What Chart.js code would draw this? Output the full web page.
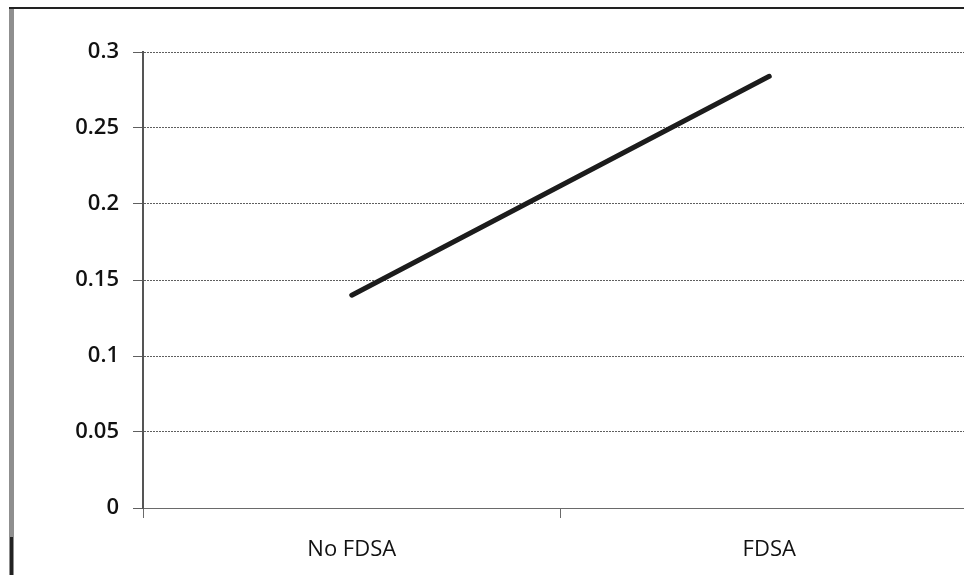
<!DOCTYPE html>
<html>
<head>
<meta charset="utf-8">
<script src="https://cdn.jsdelivr.net/npm/chart.js@4"></script>
<style>
  html, body { margin: 0; padding: 0; background: #fff; overflow: hidden; width: 964px; height: 575px; }
  #wrap { position: absolute; left: 0; top: 0; width: 990px; height: 575px; }
  #frameLeft { position: absolute; left: 9px; top: 8px; width: 5px; height: 567px; background: #8f8f8f; }
  #frameLeftDark { position: absolute; left: 10px; top: 537px; width: 3px; height: 38px; background: #222; }
  #frameTop { position: absolute; left: 9px; top: 7px; width: 960px; height: 2px; background: #222; }
</style>
</head>
<body>
<div id="wrap"><canvas id="c" width="990" height="575"></canvas></div>
<div id="frameLeft"></div>
<div id="frameLeftDark"></div>
<div id="frameTop"></div>
<script>
const categories = ["No FDSA", "FDSA"];
const seriesValues = [0.14, 0.284];
const yTicks = [0, 0.05, 0.1, 0.15, 0.2, 0.25, 0.3];
const yTickLabels = ["0", "0.05", "0.1", "0.15", "0.2", "0.25", "0.3"];

new Chart(document.getElementById('c'), {
  type: 'line',
  data: {
    labels: categories,
    datasets: [{
      data: seriesValues,
      borderColor: '#1c1c1c',
      borderWidth: 5,
      borderCapStyle: 'round',
      pointRadius: 0,
      tension: 0,
      fill: false
    }]
  },
  options: {
    responsive: false,
    animation: false,
    devicePixelRatio: 1,
    layout: { padding: { top: 52, right: 12, bottom: 0, left: 0 } },
    plugins: { legend: { display: false }, tooltip: { enabled: false } },
    scales: {
      x: {
        offset: true,
        grid: {
          offset: true,
          drawOnChartArea: false,
          drawTicks: true,
          tickLength: 10,
          color: '#6a6a6a'
        },
        border: { display: true, color: '#6a6a6a', dash: [2, 1] },
        ticks: {
          padding: 19,
          color: '#111',
          font: { family: 'Open Sans', size: 22 }
        },
        afterFit: (s) => { s.height = 67; }
      },
      y: {
        min: 0,
        max: 0.3,
        afterBuildTicks: (s) => { s.ticks = yTicks.map(v => ({ value: v })); },
        grid: {
          color: '#5f5f5f',
          tickLength: 10,
          drawTicks: true,
          lineWidth: 1
        },
        border: { display: true, color: '#555', width: 2, dash: [2, 1] },
        ticks: {
          padding: 14,
          color: '#111',
          font: { family: 'Open Sans', size: 22, weight: '600' },
          callback: (v) => { const i = yTicks.indexOf(v); return i >= 0 ? yTickLabels[i] : ''; }
        },
        afterFit: (s) => { s.width = 143; }
      }
    }
  }
});
</script>
</body>
</html>
